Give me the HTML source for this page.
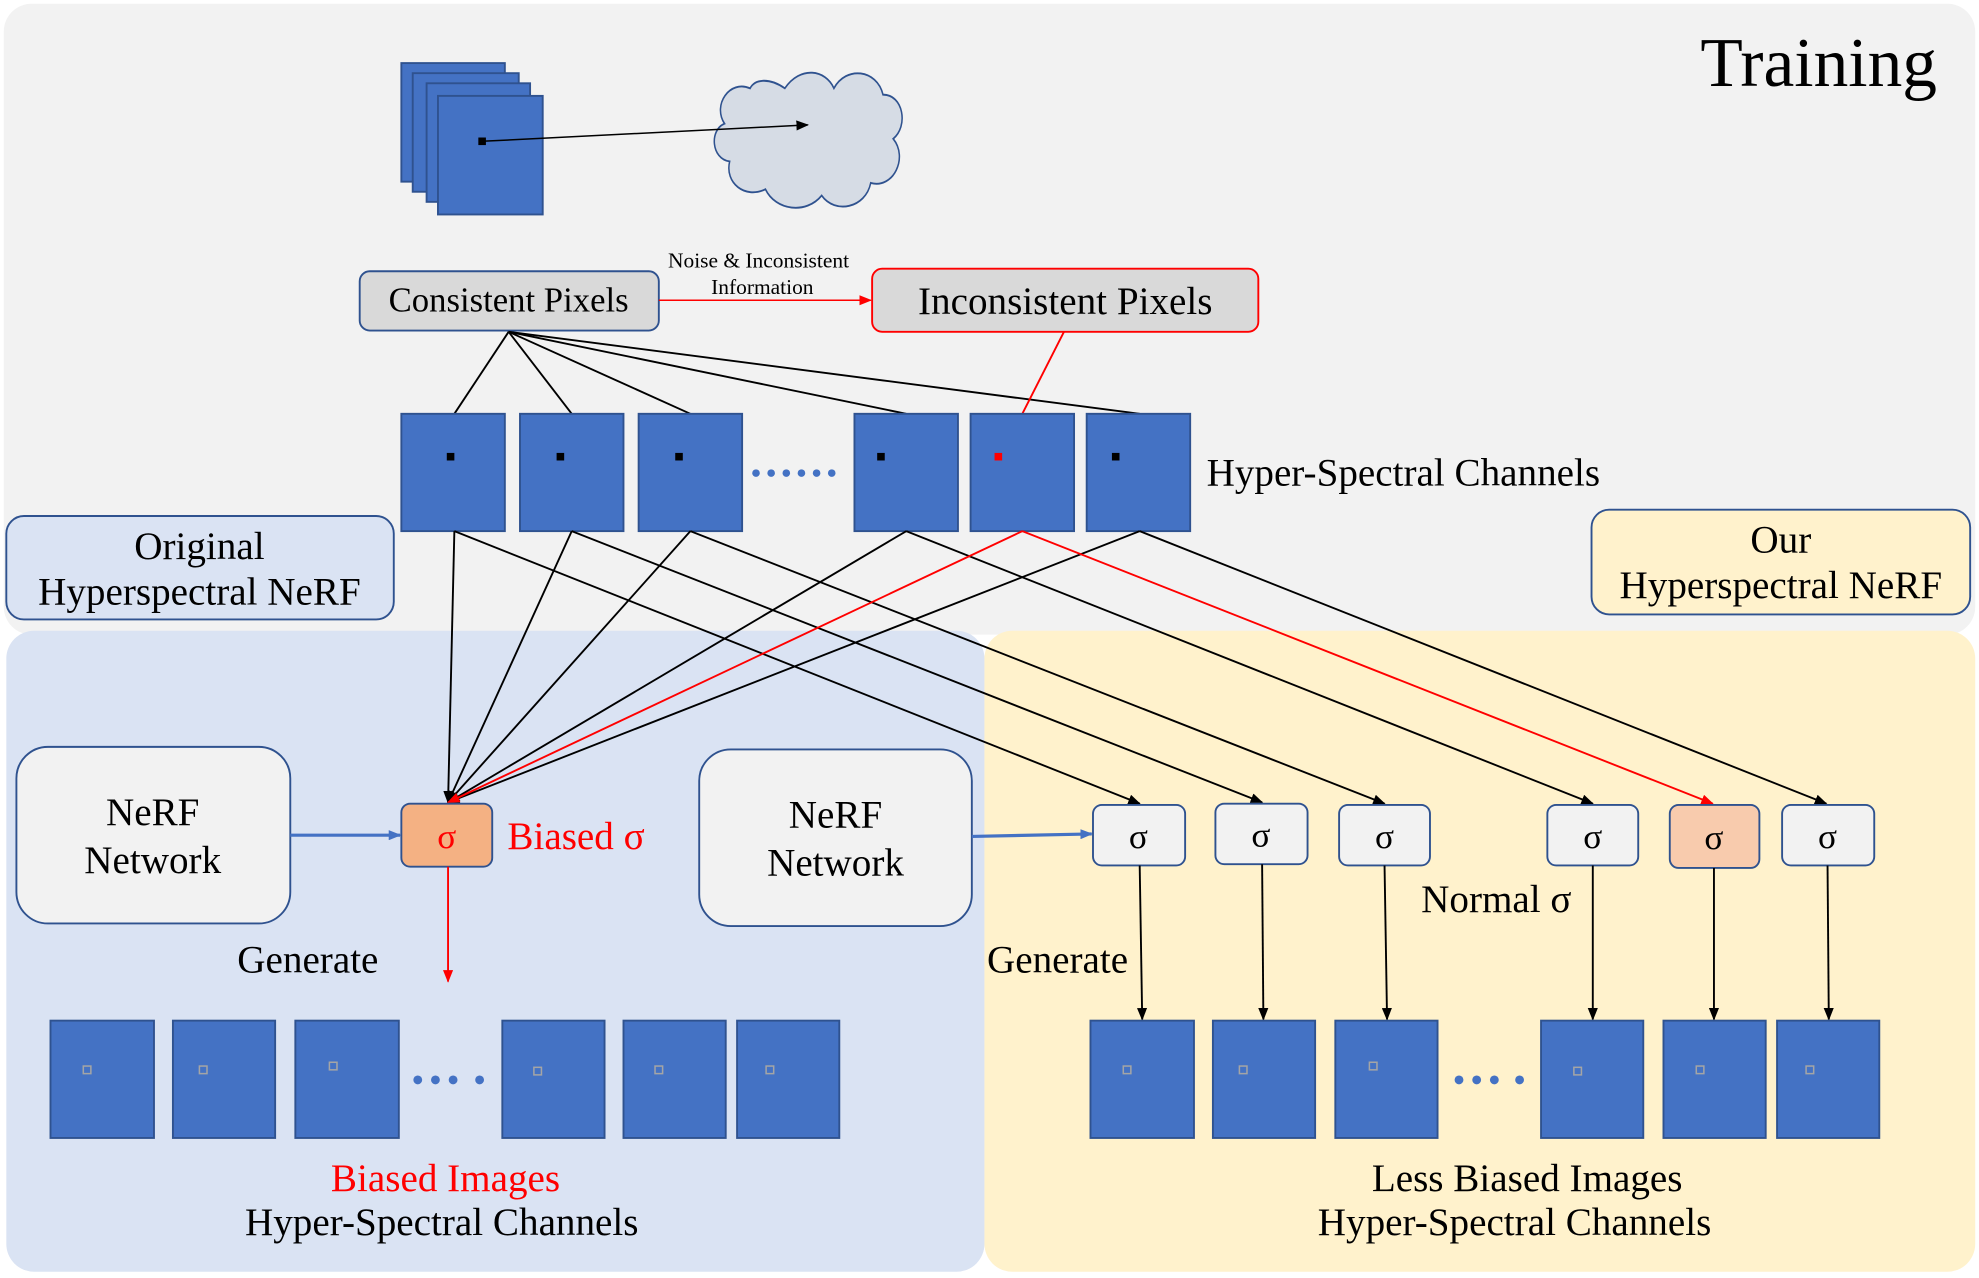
<!DOCTYPE html>
<html><head><meta charset="utf-8"><style>html,body{margin:0;padding:0;background:#fff}svg{display:block}text{font-family:"Liberation Serif",serif}</style></head>
<body>
<svg width="1979" height="1278" viewBox="0 0 1568 1013" preserveAspectRatio="none" xmlns="http://www.w3.org/2000/svg">
<defs>
<marker id="ak" markerWidth="10" markerHeight="8" refX="9" refY="4" orient="auto" markerUnits="userSpaceOnUse"><path d="M0,0 L10,4 L0,8 z" fill="#000"/></marker>
<marker id="ar" markerWidth="10" markerHeight="8" refX="9" refY="4" orient="auto" markerUnits="userSpaceOnUse"><path d="M0,0 L10,4 L0,8 z" fill="#f00"/></marker>
<marker id="ab" markerWidth="10" markerHeight="8" refX="9" refY="4" orient="auto" markerUnits="userSpaceOnUse"><path d="M0,0 L10,4 L0,8 z" fill="#4472c4"/></marker>
</defs>
<rect x="3" y="3" width="1562" height="500" rx="22" fill="#f2f2f2"/>
<rect x="5" y="500" width="775" height="508" rx="22" fill="#dae3f3"/>
<rect x="780" y="500" width="785" height="508" rx="22" fill="#fff2cc"/>
<text x="1441" y="68" font-size="55" text-anchor="middle">Training</text>
<g fill="#4472c4" stroke="#2f528f" stroke-width="1.5">
<rect x="318" y="50" width="82" height="94"/><rect x="327" y="58" width="84" height="94"/><rect x="338" y="66" width="82" height="94"/><rect x="347" y="76" width="83" height="94"/>
</g>
<rect x="379" y="109" width="6" height="6" fill="#000"/>
<g transform="translate(715,0) scale(0.81,1) translate(-715,0)">
<path d="M600,70 c15,-18 40,-15 48,0 c12,-18 42,-15 48,5 c20,0 25,25 10,35 c15,15 0,40 -22,35 c-5,20 -35,25 -48,10 c-15,15 -45,12 -55,-5 c-20,8 -40,-5 -35,-22 c-18,-2 -20,-25 -5,-30 c-12,-15 5,-35 25,-28 c5,-8 20,-8 34,0z" fill="#d6dce5" stroke="#2f528f" stroke-width="1.5"/>
</g>
<line x1="382" y1="112" x2="640" y2="99" stroke="#000" stroke-width="1.2" marker-end="url(#ak)"/>
<rect x="285" y="215" width="237" height="47" rx="8" fill="#d9d9d9" stroke="#2f528f" stroke-width="1.5"/>
<text x="403" y="247" font-size="27.5" text-anchor="middle">Consistent Pixels</text>
<rect x="691" y="213" width="306" height="50" rx="8" fill="#d9d9d9" stroke="#f00" stroke-width="1.5"/>
<text x="844" y="249" font-size="31" text-anchor="middle">Inconsistent Pixels</text>
<line x1="522" y1="238" x2="690" y2="238" stroke="#f00" stroke-width="1.2" marker-end="url(#ar)"/>
<text x="601" y="212" font-size="17" text-anchor="middle">Noise &amp; Inconsistent</text>
<text x="604" y="233" font-size="17" text-anchor="middle">Information</text>
<g stroke="#000" stroke-width="1.5">
<line x1="403" y1="263" x2="360" y2="328"/><line x1="403" y1="263" x2="453" y2="328"/><line x1="403" y1="263" x2="547" y2="328"/><line x1="403" y1="263" x2="718" y2="328"/><line x1="403" y1="263" x2="903" y2="328"/>
</g>
<line x1="843" y1="263" x2="810" y2="328" stroke="#f00" stroke-width="1.5"/>
<g fill="#4472c4" stroke="#2f528f" stroke-width="1.5">
<rect x="318" y="328" width="82" height="93"/><rect x="412" y="328" width="82" height="93"/><rect x="506" y="328" width="82" height="93"/><rect x="677" y="328" width="82" height="93"/><rect x="769" y="328" width="82" height="93"/><rect x="861" y="328" width="82" height="93"/>
</g>
<g fill="#000"><rect x="354" y="359" width="6" height="6"/><rect x="441" y="359" width="6" height="6"/><rect x="535" y="359" width="6" height="6"/><rect x="695" y="359" width="6" height="6"/><rect x="881" y="359" width="6" height="6"/></g>
<rect x="788" y="359" width="6" height="6" fill="#f00"/>
<g fill="#4472c4"><circle cx="599" cy="375" r="3"/><circle cx="611" cy="375" r="3"/><circle cx="623" cy="375" r="3"/><circle cx="635" cy="375" r="3"/><circle cx="647" cy="375" r="3"/><circle cx="659" cy="375" r="3"/></g>
<text x="956" y="385" font-size="31">Hyper-Spectral Channels</text>
<rect x="5" y="409" width="307" height="82" rx="14" fill="#dae3f3" stroke="#2f528f" stroke-width="1.5"/>
<text x="158" y="443" font-size="31" text-anchor="middle">Original</text>
<text x="158" y="479" font-size="31" text-anchor="middle">Hyperspectral NeRF</text>
<rect x="1261" y="404" width="300" height="83" rx="14" fill="#fff2cc" stroke="#2f528f" stroke-width="1.5"/>
<text x="1411" y="438" font-size="31" text-anchor="middle">Our</text>
<text x="1411" y="474" font-size="31" text-anchor="middle">Hyperspectral NeRF</text>
<g stroke="#000" stroke-width="1.5" marker-end="url(#ak)">
<line x1="360" y1="421" x2="355" y2="636"/><line x1="453" y1="421" x2="355" y2="636"/><line x1="547" y1="421" x2="355" y2="636"/><line x1="718" y1="421" x2="355" y2="636"/><line x1="903" y1="421" x2="355" y2="636"/>
<line x1="360" y1="421" x2="903" y2="637"/><line x1="453" y1="421" x2="1000" y2="636"/><line x1="547" y1="421" x2="1097" y2="637"/><line x1="718" y1="421" x2="1262" y2="637"/><line x1="903" y1="421" x2="1447" y2="637"/>
</g>
<g stroke="#f00" stroke-width="1.5" marker-end="url(#ar)">
<line x1="810" y1="421" x2="355" y2="636"/><line x1="810" y1="421" x2="1357" y2="637"/>
</g>
<rect x="13" y="592" width="217" height="140" rx="25" fill="#f2f2f2" stroke="#2f528f" stroke-width="1.5"/>
<text x="121" y="654" font-size="31" text-anchor="middle">NeRF</text><text x="121" y="692" font-size="31" text-anchor="middle">Network</text>
<rect x="554" y="594" width="216" height="140" rx="25" fill="#f2f2f2" stroke="#2f528f" stroke-width="1.5"/>
<text x="662" y="656" font-size="31" text-anchor="middle">NeRF</text><text x="662" y="694" font-size="31" text-anchor="middle">Network</text>
<line x1="230" y1="662" x2="317" y2="662" stroke="#4472c4" stroke-width="2.5" marker-end="url(#ab)"/>
<line x1="770" y1="663" x2="865" y2="661" stroke="#4472c4" stroke-width="2.5" marker-end="url(#ab)"/>
<rect x="318" y="637" width="72" height="50" rx="7" fill="#f4b183" stroke="#2f528f" stroke-width="1.5"/>
<text x="354" y="672" font-size="28" text-anchor="middle" fill="#f00">σ</text>
<text x="402" y="673" font-size="31" fill="#f00">Biased σ</text>
<line x1="355" y1="687" x2="355" y2="778" stroke="#f00" stroke-width="1.5" marker-end="url(#ar)"/>
<g stroke="#2f528f" stroke-width="1.5">
<rect x="866" y="638" width="73" height="48" rx="7" fill="#f2f2f2"/><rect x="963" y="637" width="73" height="48" rx="7" fill="#f2f2f2"/><rect x="1061" y="638" width="72" height="48" rx="7" fill="#f2f2f2"/><rect x="1226" y="638" width="72" height="48" rx="7" fill="#f2f2f2"/><rect x="1323" y="638" width="71" height="50" rx="7" fill="#f8cbad"/><rect x="1412" y="638" width="73" height="48" rx="7" fill="#f2f2f2"/>
</g>
<g font-size="28" text-anchor="middle"><text x="902" y="672">σ</text><text x="999" y="671">σ</text><text x="1097" y="672">σ</text><text x="1262" y="672">σ</text><text x="1358" y="673">σ</text><text x="1448" y="672">σ</text></g>
<text x="1126" y="723" font-size="31">Normal σ</text>
<text x="188" y="771" font-size="31">Generate</text>
<text x="782" y="771" font-size="31">Generate</text>
<g stroke="#000" stroke-width="1.5" marker-end="url(#ak)">
<line x1="903" y1="686" x2="905" y2="808"/><line x1="1000" y1="685" x2="1001" y2="808"/><line x1="1097" y1="686" x2="1099" y2="808"/><line x1="1262" y1="686" x2="1262" y2="808"/><line x1="1358" y1="688" x2="1358" y2="808"/><line x1="1448" y1="686" x2="1449" y2="808"/>
</g>
<g fill="#4472c4" stroke="#2f528f" stroke-width="1.5">
<rect x="40" y="809" width="82" height="93"/><rect x="137" y="809" width="81" height="93"/><rect x="234" y="809" width="82" height="93"/><rect x="398" y="809" width="81" height="93"/><rect x="494" y="809" width="81" height="93"/><rect x="584" y="809" width="81" height="93"/>
<rect x="864" y="809" width="82" height="93"/><rect x="961" y="809" width="81" height="93"/><rect x="1058" y="809" width="81" height="93"/><rect x="1221" y="809" width="81" height="93"/><rect x="1318" y="809" width="81" height="93"/><rect x="1408" y="809" width="81" height="93"/>
</g>
<g fill="none" stroke="#a5a5a5" stroke-width="1.2">
<rect x="66" y="845" width="6" height="6"/><rect x="158" y="845" width="6" height="6"/><rect x="261" y="842" width="6" height="6"/><rect x="423" y="846" width="6" height="6"/><rect x="519" y="845" width="6" height="6"/><rect x="607" y="845" width="6" height="6"/>
<rect x="890" y="845" width="6" height="6"/><rect x="982" y="845" width="6" height="6"/><rect x="1085" y="842" width="6" height="6"/><rect x="1247" y="846" width="6" height="6"/><rect x="1344" y="845" width="6" height="6"/><rect x="1431" y="845" width="6" height="6"/>
</g>
<g fill="#4472c4"><circle cx="331" cy="856" r="3.5"/><circle cx="345" cy="856" r="3.5"/><circle cx="359" cy="856" r="3.5"/><circle cx="380" cy="856" r="3.5"/>
<circle cx="1156" cy="856" r="3.5"/><circle cx="1170" cy="856" r="3.5"/><circle cx="1184" cy="856" r="3.5"/><circle cx="1204" cy="856" r="3.5"/></g>
<text x="353" y="944" font-size="31" text-anchor="middle" fill="#f00">Biased Images</text>
<text x="350" y="979" font-size="31" text-anchor="middle">Hyper-Spectral Channels</text>
<text x="1210" y="944" font-size="31" text-anchor="middle">Less Biased Images</text>
<text x="1200" y="979" font-size="31" text-anchor="middle">Hyper-Spectral Channels</text>
</svg>
</body></html>
